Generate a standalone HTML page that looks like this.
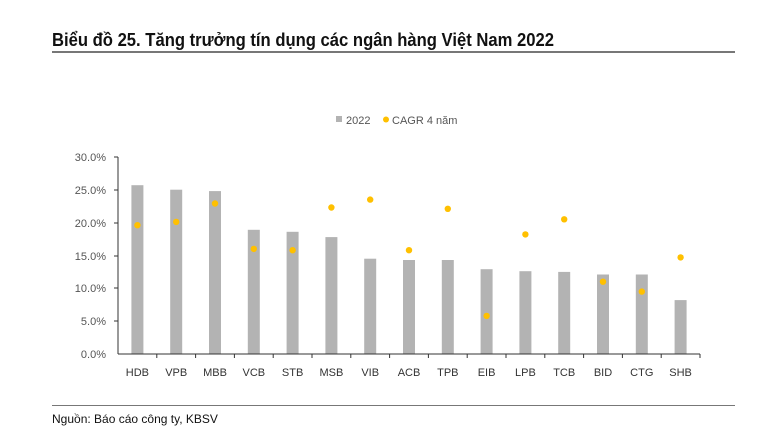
<!DOCTYPE html>
<html><head><meta charset="utf-8"><style>
body{margin:0;background:#fff;width:765px;height:432px;overflow:hidden}
svg{display:block}
</style></head><body>
<svg width="765" height="432" xmlns="http://www.w3.org/2000/svg" font-family="Liberation Sans, sans-serif">
<text x="52" y="46" font-size="18" font-weight="bold" fill="#111" textLength="502" lengthAdjust="spacingAndGlyphs">Biểu đồ 25. Tăng trưởng tín dụng các ngân hàng Việt Nam 2022</text>
<rect x="52" y="51" width="683" height="2" fill="#777"/>
<rect x="336" y="116" width="6" height="6" fill="#b3b3b3"/>
<text x="346" y="124" font-size="11" fill="#555">2022</text>
<circle cx="386" cy="119.5" r="3" fill="#ffc000"/>
<text x="392" y="124" font-size="11" fill="#555">CAGR 4 năm</text>
<g font-size="11" fill="#555" text-anchor="end">
<text x="106" y="358">0.0%</text><text x="106" y="325">5.0%</text><text x="106" y="292">10.0%</text>
<text x="106" y="260">15.0%</text><text x="106" y="227">20.0%</text><text x="106" y="194">25.0%</text><text x="106" y="161">30.0%</text>
</g>
<g fill="#b3b3b3">
<rect x="131.4" y="185.2" width="12" height="168.8"/>
<rect x="170.2" y="189.7" width="12" height="164.3"/>
<rect x="209" y="191.1" width="12" height="162.9"/>
<rect x="247.8" y="229.8" width="12" height="124.2"/>
<rect x="286.6" y="231.8" width="12" height="122.2"/>
<rect x="325.4" y="237.1" width="12" height="116.9"/>
<rect x="364.2" y="258.7" width="12" height="95.3"/>
<rect x="403" y="260" width="12" height="94"/>
<rect x="441.8" y="260" width="12" height="94"/>
<rect x="480.6" y="269.2" width="12" height="84.8"/>
<rect x="519.4" y="271.2" width="12" height="82.8"/>
<rect x="558.2" y="271.9" width="12" height="82.1"/>
<rect x="597" y="274.5" width="12" height="79.5"/>
<rect x="635.8" y="274.5" width="12" height="79.5"/>
<rect x="674.6" y="300.1" width="12" height="53.9"/>
</g>
<g fill="#ffc000">
<circle cx="137.4" cy="225.2" r="3.2"/><circle cx="176.2" cy="221.9" r="3.2"/>
<circle cx="215" cy="203.5" r="3.2"/><circle cx="253.8" cy="248.9" r="3.2"/>
<circle cx="292.6" cy="250.2" r="3.2"/><circle cx="331.4" cy="207.5" r="3.2"/>
<circle cx="370.2" cy="199.6" r="3.2"/><circle cx="409" cy="250.2" r="3.2"/>
<circle cx="447.8" cy="208.8" r="3.2"/><circle cx="486.6" cy="315.9" r="3.2"/>
<circle cx="525.4" cy="234.4" r="3.2"/><circle cx="564.2" cy="219.3" r="3.2"/>
<circle cx="603" cy="281.7" r="3.2"/><circle cx="641.8" cy="291.6" r="3.2"/>
<circle cx="680.6" cy="257.4" r="3.2"/>
</g>
<g stroke="#333" stroke-width="1">
<line x1="118" y1="157" x2="118" y2="354"/>
<line x1="118" y1="354" x2="700" y2="354"/>
<line x1="114" y1="157" x2="118" y2="157"/><line x1="114" y1="190" x2="118" y2="190"/>
<line x1="114" y1="223" x2="118" y2="223"/><line x1="114" y1="256" x2="118" y2="256"/>
<line x1="114" y1="288" x2="118" y2="288"/><line x1="114" y1="321" x2="118" y2="321"/>
<line x1="156.8" y1="354" x2="156.8" y2="358"/><line x1="195.6" y1="354" x2="195.6" y2="358"/>
<line x1="234.4" y1="354" x2="234.4" y2="358"/><line x1="273.2" y1="354" x2="273.2" y2="358"/>
<line x1="312" y1="354" x2="312" y2="358"/><line x1="350.8" y1="354" x2="350.8" y2="358"/>
<line x1="389.6" y1="354" x2="389.6" y2="358"/><line x1="428.4" y1="354" x2="428.4" y2="358"/>
<line x1="467.2" y1="354" x2="467.2" y2="358"/><line x1="506" y1="354" x2="506" y2="358"/>
<line x1="544.8" y1="354" x2="544.8" y2="358"/><line x1="583.6" y1="354" x2="583.6" y2="358"/>
<line x1="622.4" y1="354" x2="622.4" y2="358"/><line x1="661.2" y1="354" x2="661.2" y2="358"/>
<line x1="700" y1="354" x2="700" y2="358"/>
</g>
<g font-size="11" fill="#333" text-anchor="middle">
<text x="137.4" y="376">HDB</text><text x="176.2" y="376">VPB</text><text x="215" y="376">MBB</text>
<text x="253.8" y="376">VCB</text><text x="292.6" y="376">STB</text><text x="331.4" y="376">MSB</text>
<text x="370.2" y="376">VIB</text><text x="409" y="376">ACB</text><text x="447.8" y="376">TPB</text>
<text x="486.6" y="376">EIB</text><text x="525.4" y="376">LPB</text><text x="564.2" y="376">TCB</text>
<text x="603" y="376">BID</text><text x="641.8" y="376">CTG</text><text x="680.6" y="376">SHB</text>
</g>
<rect x="52" y="405" width="683" height="1" fill="#777"/>
<text x="52" y="423" font-size="12" fill="#111">Nguồn: Báo cáo công ty, KBSV</text>
</svg>
</body></html>
